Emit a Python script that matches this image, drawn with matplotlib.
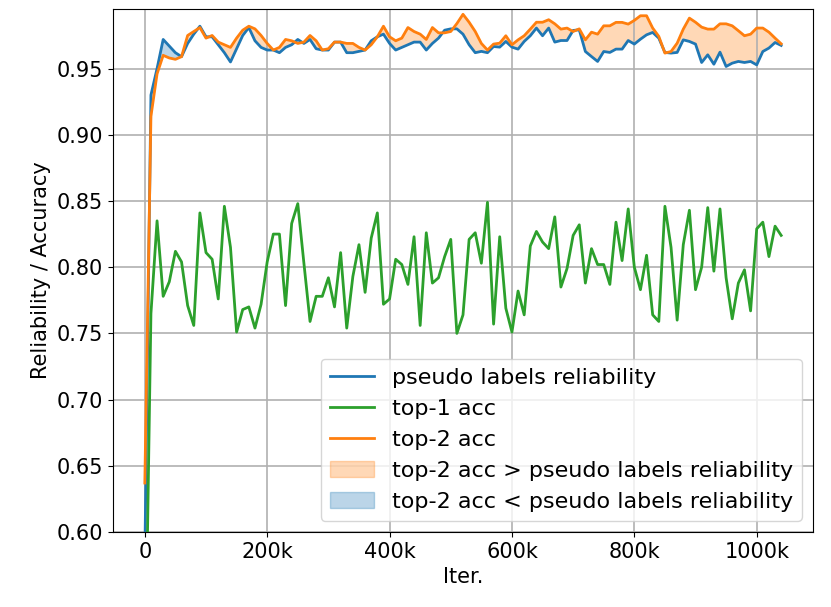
import matplotlib
matplotlib.use("Agg")
import matplotlib.pyplot as plt
from matplotlib.ticker import FuncFormatter
import numpy as np

iters = np.arange(0, 1050000, 10000)

reliability = [
    0.58, 0.93, 0.95, 0.972, 0.967, 0.962, 0.959, 0.969, 0.976, 0.982,
    0.974, 0.974, 0.968, 0.962, 0.955, 0.965, 0.975, 0.981, 0.971, 0.966,
    0.964, 0.964, 0.962, 0.966, 0.968, 0.972, 0.969, 0.972, 0.965, 0.964,
    0.964, 0.970, 0.970, 0.962, 0.962, 0.963, 0.964, 0.971, 0.974, 0.976,
    0.969, 0.964, 0.966, 0.968, 0.970, 0.970, 0.964, 0.969, 0.973, 0.979,
    0.980, 0.980, 0.976, 0.968, 0.962, 0.963, 0.962, 0.9667, 0.9662, 0.9705,
    0.9662, 0.9647, 0.9705, 0.9748, 0.9806, 0.9748, 0.9806, 0.970, 0.9712, 0.9712,
    0.9788, 0.9793, 0.9629, 0.9591, 0.9554, 0.9629, 0.9622, 0.9647, 0.9647, 0.9712,
    0.9685, 0.9722, 0.9755, 0.9773, 0.973, 0.9622, 0.9617, 0.9622, 0.9717, 0.9705,
    0.9685, 0.9546, 0.9604, 0.9533, 0.9624, 0.9516, 0.9541, 0.9554, 0.9546, 0.9554,
    0.9528, 0.9629, 0.9655, 0.9697, 0.9675,
]

top1 = [
    0.47, 0.765, 0.835, 0.778, 0.789, 0.812, 0.804, 0.771, 0.756, 0.841,
    0.811, 0.806, 0.776, 0.846, 0.815, 0.751, 0.768, 0.770, 0.754, 0.772,
    0.804, 0.825, 0.825, 0.771, 0.833, 0.848, 0.803, 0.759, 0.778, 0.778,
    0.792, 0.770, 0.811, 0.754, 0.793, 0.817, 0.781, 0.822, 0.841, 0.772,
    0.776, 0.806, 0.802, 0.787, 0.823, 0.756, 0.826, 0.788, 0.792, 0.808,
    0.821, 0.750, 0.764, 0.821, 0.826, 0.803, 0.849, 0.757, 0.823, 0.769,
    0.751, 0.782, 0.764, 0.816, 0.827, 0.819, 0.814, 0.838, 0.785, 0.799,
    0.824, 0.832, 0.788, 0.814, 0.802, 0.802, 0.787, 0.834, 0.805, 0.844,
    0.800, 0.783, 0.809, 0.764, 0.759, 0.846, 0.815, 0.760, 0.817, 0.843,
    0.783, 0.800, 0.845, 0.797, 0.844, 0.792, 0.761, 0.788, 0.798, 0.767,
    0.829, 0.834, 0.808, 0.831, 0.824,
]

top2 = [
    0.637, 0.914, 0.946, 0.960, 0.958, 0.957, 0.959, 0.975, 0.978, 0.981,
    0.973, 0.975, 0.970, 0.968, 0.966, 0.973, 0.979, 0.982, 0.980, 0.975,
    0.969, 0.964, 0.966, 0.972, 0.971, 0.969, 0.970, 0.975, 0.971, 0.964,
    0.965, 0.970, 0.970, 0.969, 0.969, 0.966, 0.964, 0.968, 0.974, 0.982,
    0.974, 0.971, 0.973, 0.981, 0.978, 0.976, 0.972, 0.981, 0.977, 0.977,
    0.978, 0.984, 0.991, 0.985, 0.978, 0.969, 0.964, 0.9685, 0.9692, 0.9748,
    0.968, 0.9717, 0.9748, 0.9798, 0.985, 0.985, 0.9869, 0.9838, 0.9798, 0.9806,
    0.978, 0.980, 0.9717, 0.9775, 0.976, 0.9823, 0.9823, 0.9849, 0.9849, 0.9836,
    0.9864, 0.9899, 0.9899, 0.9806, 0.9743, 0.9617, 0.9629, 0.9692, 0.9798, 0.9881,
    0.985, 0.9813, 0.9798, 0.9798, 0.9838, 0.9838, 0.9823, 0.9786, 0.9748, 0.976,
    0.9806, 0.9806, 0.9775, 0.973, 0.9687,
]

plt.rcParams["font.size"] = 15

rel = np.array(reliability)
t2 = np.array(top2)

fig = plt.figure(figsize=(8.31, 6.07), dpi=100)
ax = fig.add_axes([113 / 831, 1 - 532 / 607, 700 / 831, 523 / 607])
ax.plot(iters, rel, color="C0", lw=2, label="pseudo labels reliability")
ax.plot(iters, top1, color="C2", lw=2, label="top-1 acc")
ax.plot(iters, t2, color="C1", lw=2, label="top-2 acc")
ax.fill_between(iters, rel, t2, where=t2 >= rel, interpolate=True,
                color="C1", alpha=0.3, label="top-2 acc > pseudo labels reliability")
ax.fill_between(iters, rel, t2, where=t2 < rel, interpolate=True,
                color="C0", alpha=0.3, label="top-2 acc < pseudo labels reliability")

ax.set_ylim(0.6, 0.995)
ax.set_xticks(np.arange(0, 1000001, 200000))
ax.xaxis.set_major_formatter(FuncFormatter(lambda v, p: "0" if v == 0 else "%dk" % (v / 1000)))
ax.grid(True, lw=1.2)
ax.set_xlabel("Iter.")
ax.set_ylabel("Reliability / Accuracy")
ax.legend(loc="lower right", fontsize=16)

fig.savefig("out.png")
